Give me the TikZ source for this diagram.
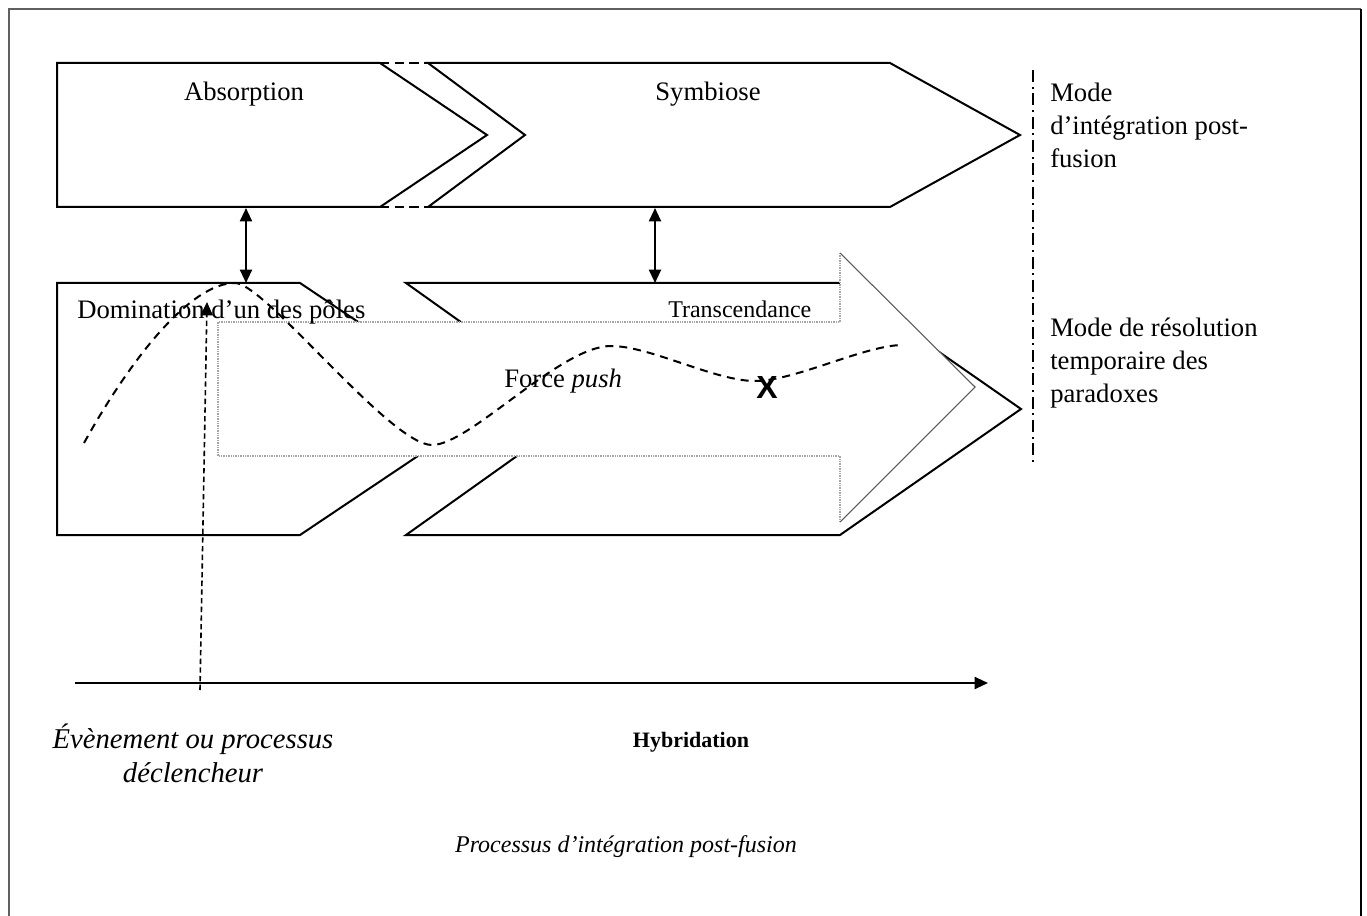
\documentclass[tikz,border=0pt]{standalone}
\usepackage{fontspec}
\setmainfont{Liberation Serif}
\newfontfamily\xfont{Liberation Sans}
\usetikzlibrary{arrows.meta}
\begin{document}
\begin{tikzpicture}[x=0.75pt,y=-0.75pt,
  blockshape/.style={draw=black,line width=1.5pt,fill=white,line join=miter},
  lbl/.style={inner sep=0pt,font=\fontsize{20}{24}\selectfont},
  dbl/.style={line width=1.5pt,{Triangle[length=10pt,width=9pt]}-{Triangle[length=10pt,width=9pt]}},
  wave/.style={line width=1.5pt,dash pattern=on 6pt off 4.5pt},
  trig/.style={line width=1.2pt,dash pattern=on 4pt off 2.5pt,-{Triangle[length=10pt,width=9pt]}},
  body/.style={gray!70,line width=0.8pt,dash pattern=on 1pt off 0.8pt},
  head/.style={gray!70!black,line width=0.8pt},
  axis/.style={line width=1.5pt,-{Triangle[length=10pt,width=9pt]}},
  sep/.style={line width=1pt,dash pattern=on 9pt off 3.5pt on 1.5pt off 3.5pt}
]
\useasboundingbox (0,0) rectangle (1367,916);
% frame
\draw[gray!75!black,line width=1.5pt] (9,916) -- (9,9) -- (1361,9);
\draw[black,line width=1.5pt] (1361,9) -- (1361,916);

% top row
\draw[blockshape] (57,63) -- (380,63) -- (487,135) -- (380,207) -- (57,207) -- cycle;
\draw[blockshape] (428,63) -- (890,63) -- (1020,135) -- (890,207) -- (428,207) -- (525,135) -- cycle;
\draw[line width=1.5pt,dash pattern=on 7pt off 4pt] (380,63) -- (487,63);
\draw[line width=1.5pt,dash pattern=on 7pt off 4pt] (380,207) -- (487,207);

% bottom row
\draw[blockshape] (57,283) -- (300,283) -- (488,409) -- (300,535) -- (57,535) -- cycle;
\draw[blockshape] (406,283) -- (840,283) -- (1021,409) -- (840,535) -- (406,535) -- (583,409) -- cycle;

% big arrow (Force push)
\fill[white] (218,322) -- (840,322) -- (840,253) -- (975,387) -- (840,522) -- (840,456) -- (218,456) -- cycle;
\draw[body] (840,253) -- (840,322) -- (218,322) -- (218,456) -- (840,456) -- (840,522);
\draw[head] (840,253) -- (975,387) -- (840,522);

% separator
\draw[sep] (1033,70) -- (1033,465);

% labels
\node[lbl,anchor=base] (abs) at (244,101) {Absorption};
\node[lbl,anchor=base] (sym) at (708,101) {Symbiose};
\node[lbl,anchor=base west] (dom) at (77,319) {Domination d’un des pôles};
\node[lbl,anchor=base west,font=\fontsize{18}{22}\selectfont] (tra) at (668,317) {Transcendance};
\node[lbl,anchor=base west] (push) at (504,387) {Force \textit{push}};

\node[lbl,anchor=base west] (m1a) at (1050,102) {Mode};
\node[lbl,anchor=base west] (m1b) at (1050,135) {d’intégration post-};
\node[lbl,anchor=base west] (m1c) at (1050,168) {fusion};
\node[lbl,anchor=base west] (m2a) at (1050,336) {Mode de résolution};
\node[lbl,anchor=base west] (m2b) at (1050,369) {temporaire des};
\node[lbl,anchor=base west] (m2c) at (1050,402) {paradoxes};

\node[inner sep=0pt,font=\xfont\bfseries\fontsize{24}{28}\selectfont] (xm) at (767,387) {X};

\node[lbl,anchor=base,font=\fontsize{21.5}{25}\itshape] (ev1) at (193,748) {Évènement ou processus};
\node[lbl,anchor=base,font=\fontsize{21.5}{25}\itshape] (ev2) at (193,782) {déclencheur};
\node[lbl,anchor=base,font=\fontsize{16.5}{20}\bfseries] (hyb) at (691,747) {Hybridation};
\node[lbl,anchor=base,font=\fontsize{18}{22}\itshape] (cap) at (626,852) {Processus d’intégration post-fusion};

% connectors
\coordinate (absB) at (246,208);
\coordinate (domT) at (246,283);
\coordinate (symB) at (655,208);
\coordinate (traT) at (655,283);
\draw[dbl] (absB) -- (domT);
\draw[dbl] (symB) -- (traT);

\coordinate (ax0) at (75,683);
\coordinate (ax1) at (988,683);
\draw[axis] (ax0) -- (ax1);

\coordinate (trg0) at (200,690);
\coordinate (trg1) at (207,302);
\draw[trig] (trg0) -- (trg1);

% wave
\draw[wave] (84,443) .. controls (130,360) and (190,283) .. (235,283)
  .. controls (265,283) and (390,445) .. (432,445)
  .. controls (470,445) and (560,346) .. (611,346)
  .. controls (650,346) and (715,381) .. (755,381)
  .. controls (795,381) and (865,345) .. (903,345);
\end{tikzpicture}
\end{document}
